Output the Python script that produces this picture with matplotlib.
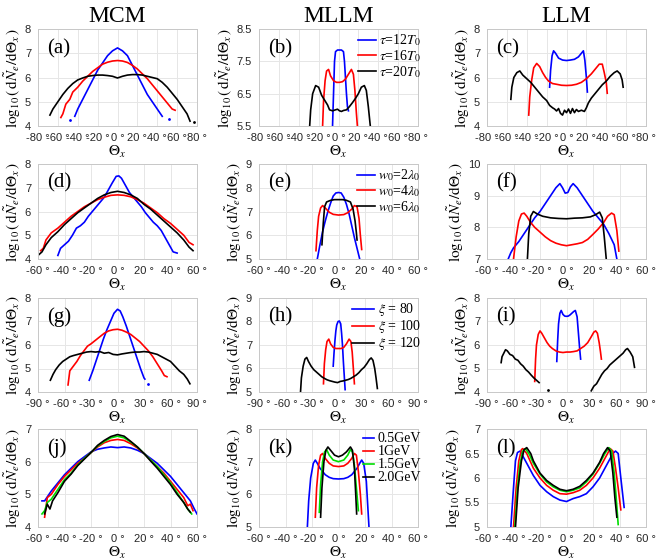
import numpy as np
import matplotlib
matplotlib.use("Agg")
import matplotlib.pyplot as plt

plt.rcParams['font.family'] = ['Liberation Serif', 'DejaVu Serif']
plt.rcParams['mathtext.fontset'] = 'stix'

# ---------------- data ----------------
# panel (a)  tau scan, MCM
a_blue = [(-43, 4.4), (-40, 4.7), (-35, 5.1), (-30, 5.5), (-25, 5.9), (-20, 6.3), (-15, 6.6),
          (-10, 6.9), (-5, 7.1), (0, 7.22), (5, 7.1), (10, 6.9), (15, 6.5), (20, 6.1),
          (25, 5.7), (30, 5.3), (35, 5.0), (40, 4.7), (45, 4.4)]
a_red = [(-57, 4.35), (-55, 4.5), (-52, 4.9), (-48, 5.1), (-45, 5.4), (-40, 5.6), (-35, 5.85),
         (-30, 6.05), (-25, 6.25), (-20, 6.4), (-15, 6.55), (-10, 6.63), (-5, 6.68), (0, 6.7),
         (5, 6.68), (10, 6.62), (15, 6.5), (20, 6.35), (25, 6.15), (30, 5.95), (35, 5.7),
         (40, 5.45), (45, 5.2), (50, 4.95), (55, 4.7), (58, 4.65)]
a_black = [(-68, 4.45), (-65, 4.7), (-60, 5.0), (-55, 5.3), (-50, 5.55), (-45, 5.75), (-40, 5.9),
           (-35, 5.98), (-30, 6.05), (-25, 6.08), (-20, 6.1), (-15, 6.1), (-10, 6.08), (-5, 6.05),
           (0, 5.98), (5, 6.05), (10, 6.1), (15, 6.12), (20, 6.12), (25, 6.1), (30, 6.05),
           (35, 6.0), (40, 5.95), (45, 5.8), (50, 5.6), (55, 5.35), (60, 5.1), (65, 4.8),
           (70, 4.5), (73, 4.2)]

# panel (b)  tau scan, MLLM
b_blue = [(-6, 5.5), (-5, 6.5), (-4, 7.5), (-3, 7.8), (-1, 7.85), (3, 7.85), (5, 7.8), (6, 7.5),
          (7, 7.0), (8, 6.5), (9, 6.1), (10, 5.97)]
b_red = [(-16, 5.5), (-15, 6.3), (-13.5, 6.9), (-12, 7.2), (-10, 7.25), (-8, 7.05), (-5, 6.9),
         (-2, 6.85), (1, 6.85), (4, 6.87), (7, 6.95), (10, 7.1), (13, 7.25), (15, 7.1),
         (16.5, 6.6), (18, 5.9), (19, 5.5)]
b_black = [(-29, 5.5), (-28, 6.0), (-26, 6.5), (-23, 6.75), (-20, 6.7), (-17, 6.45), (-14, 6.3),
           (-11, 6.15), (-9, 6.0), (-6, 5.97), (-3, 6.0), (-1, 6.02), (1, 5.97), (3, 5.95),
           (5, 5.98), (8, 6.0), (11, 6.1), (14, 6.22), (17, 6.35), (20, 6.5), (23, 6.7),
           (26, 6.75), (28, 6.6), (30, 6.1), (32, 5.5)]

# panel (c)  tau scan, LLM
c_blue = [(-17, 5.6), (-16, 6.3), (-14.5, 6.9), (-13, 7.1), (-11, 7.0), (-8, 6.8), (-4, 6.72),
          (0, 6.7), (4, 6.72), (8, 6.75), (12, 6.85), (15, 7.0), (17, 7.1), (18.5, 6.7),
          (20, 6.0), (21, 5.4)]
c_red = [(-38, 4.45), (-37, 5.2), (-35, 5.9), (-33, 6.4), (-30, 6.58), (-27, 6.45), (-24, 6.2),
         (-21, 6.0), (-18, 5.85), (-14, 5.75), (-10, 5.72), (-5, 5.68), (0, 5.67), (5, 5.68),
         (10, 5.72), (15, 5.8), (20, 5.95), (25, 6.15), (29, 6.35), (33, 6.55), (36, 6.55),
         (38, 6.2), (40, 5.8), (41, 5.35)]
c_black = [(-56, 5.1), (-55, 5.6), (-53, 6.0), (-50, 6.2), (-47, 6.27), (-44, 6.1), (-40, 5.95),
           (-36, 5.8), (-32, 5.6), (-28, 5.4), (-24, 5.2), (-20, 5.05), (-17, 4.85), (-14, 4.75),
           (-12, 4.7), (-10, 4.62), (-8, 4.72), (-6, 4.52), (-4, 4.45), (-2, 4.65), (0, 4.55),
           (2, 4.7), (4, 4.52), (6, 4.72), (8, 4.55), (10, 4.68), (12, 4.6), (15, 4.65), (18, 4.6),
           (20, 4.75), (22, 4.95), (25, 5.15), (28, 5.3), (32, 5.5), (36, 5.7), (40, 5.85),
           (44, 6.05), (48, 6.2), (51, 6.27), (54, 6.15), (56, 5.9), (57, 5.6)]

# panel (d)  w0 scan, MCM
d_blue = [(-45, 4.15), (-43, 4.45), (-40, 4.6), (-37, 4.75), (-34, 5.0), (-31, 5.3), (-28, 5.4),
          (-25, 5.55), (-22, 5.8), (-19, 6.0), (-16, 6.2), (-13, 6.4), (-10, 6.6), (-7, 6.9),
          (-4, 7.2), (-1, 7.48), (1, 7.5), (3, 7.4), (6, 7.1), (9, 6.8), (12, 6.6), (15, 6.4),
          (18, 6.2), (21, 5.95), (24, 5.75), (27, 5.55), (30, 5.4), (33, 5.2), (36, 4.9),
          (39, 4.6), (42, 4.3), (45, 4.25)]
d_red = [(-58, 4.35), (-56, 4.45), (-54, 4.8), (-50, 5.1), (-45, 5.3), (-40, 5.55), (-35, 5.8),
         (-30, 6.0), (-25, 6.2), (-20, 6.35), (-15, 6.5), (-10, 6.6), (-5, 6.68), (0, 6.7),
         (5, 6.68), (10, 6.62), (15, 6.5), (20, 6.35), (25, 6.15), (30, 5.95), (35, 5.7),
         (40, 5.5), (45, 5.25), (50, 5.0), (54, 4.7), (57, 4.6)]
d_black = [(-60, 4.15), (-57, 4.3), (-54, 4.6), (-50, 4.9), (-45, 5.15), (-40, 5.45), (-35, 5.7),
           (-30, 5.95), (-25, 6.15), (-20, 6.35), (-15, 6.55), (-10, 6.7), (-5, 6.8), (0, 6.85),
           (5, 6.8), (10, 6.7), (15, 6.55), (20, 6.3), (25, 6.1), (30, 5.85), (35, 5.6),
           (40, 5.35), (45, 5.1), (50, 4.8), (54, 4.5), (57, 4.35)]

# panel (e)  w0 scan, MLLM
e_blue = [(-16, 5.0), (-14, 5.6), (-12, 6.15), (-10, 6.6), (-8, 7.0), (-6, 7.35), (-4, 7.65),
          (-2, 7.78), (0, 7.8), (2, 7.78), (4, 7.6), (6, 7.3), (8, 6.9), (10, 6.4), (12, 5.9),
          (14, 5.45), (16, 5.0)]
e_red = [(-17, 5.35), (-16, 6.2), (-15, 6.8), (-13.5, 7.15), (-12, 7.25), (-10, 7.15), (-7, 6.97),
         (-4, 6.88), (0, 6.85), (4, 6.87), (7, 6.95), (10, 7.1), (12, 7.25), (14, 7.2),
         (15.5, 6.7), (16.5, 6.0), (17.5, 5.4)]
e_black = [(-12.5, 5.6), (-11.5, 6.5), (-10.5, 7.2), (-9, 7.4), (-6, 7.47), (-3, 7.5), (0, 7.5),
           (3, 7.5), (6, 7.47), (9, 7.4), (11, 7.1), (12.5, 6.6), (13.5, 6.1), (14, 5.8)]

# panel (f)  w0 scan, LLM
f_blue = [(-44, 7.0), (-42, 7.2), (-40, 7.35), (-36, 7.55), (-32, 7.8), (-28, 8.05), (-24, 8.3),
          (-20, 8.5), (-16, 8.75), (-12, 9.0), (-8, 9.25), (-5, 9.38), (-3, 9.25), (-1, 9.08),
          (1, 9.1), (3, 9.28), (5, 9.38), (8, 9.25), (12, 9.0), (16, 8.75), (20, 8.5),
          (24, 8.3), (28, 8.1), (32, 7.8), (36, 7.45), (38, 7.0)]
f_red = [(-40, 7.0), (-38, 7.7), (-36, 8.2), (-34, 8.42), (-32, 8.45), (-30, 8.35), (-27, 8.15),
         (-24, 8.0), (-20, 7.85), (-16, 7.7), (-12, 7.58), (-8, 7.5), (-4, 7.45), (0, 7.42),
         (4, 7.45), (8, 7.48), (12, 7.52), (16, 7.62), (20, 7.78), (24, 7.95), (28, 8.15),
         (31, 8.35), (34, 8.45), (36, 8.4), (38, 7.9), (39.5, 7.25)]
f_black = [(-29.5, 7.0), (-28.5, 7.8), (-27, 8.35), (-25, 8.5), (-22, 8.42), (-18, 8.35),
           (-12, 8.3), (-6, 8.28), (0, 8.27), (6, 8.29), (12, 8.3), (18, 8.33), (22, 8.4),
           (25, 8.48), (27, 8.3), (28.5, 7.7), (30, 7.0)]

# panel (g)  xi scan, MCM
g_blue = [(-32, 4.5), (-28, 4.9), (-24, 5.35), (-20, 5.8), (-16, 6.25), (-12, 6.65), (-8, 7.0),
          (-4, 7.35), (0, 7.52), (3, 7.45), (6, 7.2), (10, 6.8), (14, 6.35), (18, 5.9),
          (22, 5.45), (26, 5.0), (30, 4.6), (31, 4.55)]
g_red = [(-56, 4.3), (-55, 4.6), (-54, 4.9), (-50, 5.1), (-46, 5.3), (-42, 5.55), (-38, 5.75),
         (-34, 5.95), (-30, 6.05), (-25, 6.2), (-20, 6.35), (-15, 6.5), (-10, 6.6), (-5, 6.65),
         (0, 6.67), (5, 6.63), (10, 6.55), (15, 6.45), (20, 6.3), (25, 6.15), (30, 5.95),
         (35, 5.75), (40, 5.5), (45, 5.2), (50, 4.9), (53, 4.7), (56, 4.65)]
g_black = [(-76, 4.5), (-73, 4.75), (-70, 4.95), (-66, 5.15), (-62, 5.3), (-58, 5.4), (-54, 5.5),
           (-50, 5.55), (-45, 5.6), (-40, 5.65), (-35, 5.7), (-30, 5.72), (-25, 5.7), (-20, 5.72),
           (-15, 5.65), (-10, 5.68), (-5, 5.6), (0, 5.58), (5, 5.62), (10, 5.65), (15, 5.68),
           (20, 5.7), (25, 5.7), (30, 5.72), (35, 5.7), (40, 5.65), (45, 5.6), (50, 5.5),
           (55, 5.4), (60, 5.3), (65, 5.1), (70, 4.9), (75, 4.75), (79, 4.55), (82, 4.35)]

# panel (h)  xi scan, MLLM
h_blue = [(-6, 6.1), (-5, 6.7), (-4, 7.2), (-3, 7.6), (-2, 7.85), (-0.5, 8.0), (1, 8.02),
          (2.5, 7.9), (3.5, 7.5), (4.5, 7.0), (5.5, 6.3), (6.5, 5.7), (7.5, 5.1)]
h_red = [(-17, 5.35), (-16, 6.2), (-14.5, 6.8), (-13, 7.15), (-11, 7.25), (-9, 7.05), (-6, 6.9),
         (-3, 6.85), (0, 6.85), (3, 6.85), (6, 6.9), (9, 7.05), (12, 7.25), (14, 7.15),
         (15.5, 6.7), (17, 5.9), (18, 5.35)]
h_black = [(-43, 5.0), (-42, 5.6), (-40, 6.1), (-38, 6.4), (-36, 6.47), (-34, 6.3), (-31, 6.1),
           (-28, 5.95), (-25, 5.85), (-22, 5.75), (-19, 5.65), (-16, 5.58), (-13, 5.52),
           (-10, 5.48), (-7, 5.45), (-4, 5.42), (-1, 5.4), (2, 5.45), (5, 5.47), (8, 5.5),
           (11, 5.53), (14, 5.58), (17, 5.65), (20, 5.72), (23, 5.82), (26, 5.95), (29, 6.05),
           (32, 6.2), (35, 6.38), (37, 6.45), (39, 6.35), (41, 6.0), (42.5, 5.6), (44, 5.15)]

# panel (i)  xi scan, LLM (black has a gap in the middle)
i_blue = [(-11, 5.3), (-10, 6.2), (-9, 6.9), (-7.5, 7.35), (-6, 7.47), (-4, 7.3), (-2, 7.23),
          (0, 7.22), (2, 7.23), (4, 7.28), (6, 7.35), (8, 7.42), (10, 7.47), (12, 7.2),
          (13.5, 6.5), (15, 5.8), (16, 5.4)]
i_red = [(-36, 4.45), (-35, 5.4), (-34, 6.0), (-32, 6.45), (-30, 6.6), (-28, 6.5), (-25, 6.3),
         (-22, 6.1), (-19, 5.95), (-16, 5.85), (-12, 5.75), (-8, 5.7), (-4, 5.68), (0, 5.7),
         (4, 5.7), (8, 5.72), (12, 5.75), (16, 5.85), (20, 5.95), (24, 6.1), (28, 6.35),
         (31, 6.55), (33, 6.6), (35, 6.5), (37, 6.1), (38.5, 5.7), (39.5, 5.4)]
i_black = [(-74, 5.25), (-73, 5.5), (-71, 5.65), (-69, 5.8), (-67, 5.75), (-64, 5.6), (-61, 5.55),
           (-58, 5.4), (-55, 5.35), (-52, 5.2), (-49, 5.1), (-46, 4.95), (-43, 4.85), (-40, 4.72),
           (-37, 4.6), (-34, 4.5), (-31, 4.4), (np.nan, np.nan),
           (28, 4.05), (31, 4.25), (34, 4.35), (37, 4.55), (40, 4.75), (43, 4.9), (46, 5.0),
           (49, 5.15), (52, 5.25), (55, 5.35), (58, 5.45), (61, 5.55), (64, 5.65), (67, 5.8),
           (69, 5.85), (72, 5.7), (75, 5.5), (77, 5.05)]

# panel (j)  energy scan, MCM
j_blue = [(-57, 4.8), (-55, 4.8), (-50, 5.1), (-45, 5.35), (-40, 5.6), (-35, 5.8), (-30, 6.0),
          (-25, 6.15), (-20, 6.3), (-15, 6.38), (-10, 6.42), (-5, 6.45), (0, 6.43), (5, 6.45),
          (10, 6.42), (15, 6.35), (20, 6.25), (25, 6.1), (30, 5.95), (35, 5.75), (40, 5.55),
          (45, 5.3), (50, 5.05), (55, 4.8), (58, 4.55), (60, 4.4)]
j_red = [(-55, 4.3), (-53, 4.9), (-50, 5.0), (-45, 5.3), (-40, 5.55), (-35, 5.75), (-30, 5.95),
         (-25, 6.1), (-20, 6.28), (-15, 6.45), (-10, 6.58), (-5, 6.65), (0, 6.68), (5, 6.65),
         (10, 6.55), (15, 6.42), (20, 6.25), (25, 6.05), (30, 5.85), (35, 5.65), (40, 5.4),
         (45, 5.15), (50, 4.9), (53, 4.65), (55, 4.7), (57, 4.5)]
j_green = [(-57, 4.4), (-55, 4.5), (-53, 4.75), (-50, 4.85), (-45, 5.15), (-40, 5.45), (-35, 5.65),
           (-30, 5.9), (-25, 6.1), (-20, 6.28), (-15, 6.48), (-10, 6.62), (-5, 6.73), (0, 6.78),
           (5, 6.73), (10, 6.6), (15, 6.45), (20, 6.25), (25, 6.05), (30, 5.85), (35, 5.6),
           (40, 5.35), (45, 5.05), (50, 4.75), (53, 4.55), (56, 4.4)]
j_black = [(-55, 4.4), (-53, 4.7), (-51, 4.55), (-49, 4.8), (-45, 5.05), (-40, 5.4), (-35, 5.62),
           (-30, 5.88), (-25, 6.08), (-20, 6.28), (-15, 6.5), (-10, 6.65), (-5, 6.77), (0, 6.83),
           (5, 6.78), (10, 6.62), (15, 6.45), (20, 6.25), (25, 6.02), (30, 5.8), (35, 5.55),
           (40, 5.3), (45, 5.0), (50, 4.75), (53, 4.55), (55, 4.45)]

# panel (k)  energy scan, MLLM
k_blue = [(-23.5, 5.0), (-22.5, 5.8), (-21, 6.5), (-19, 6.95), (-17.5, 7.05), (-16, 6.95),
          (-14, 6.8), (-12, 6.7), (-10, 6.6), (-7, 6.52), (-4, 6.48), (0, 6.47), (4, 6.48),
          (7, 6.52), (10, 6.6), (12, 6.7), (14, 6.8), (16, 6.95), (17.5, 7.05), (19, 6.95),
          (21, 6.4), (22, 5.7), (23, 5.0)]
k_red = [(-17.5, 5.3), (-16.5, 6.2), (-15, 6.9), (-13.5, 7.2), (-12, 7.25), (-10, 7.1), (-7, 6.95),
         (-4, 6.87), (0, 6.85), (4, 6.87), (7, 6.95), (10, 7.1), (12, 7.25), (13.5, 7.2),
         (15, 6.7), (16.5, 6.0), (17.5, 5.4)]
k_green = [(-14.5, 5.45), (-13.5, 6.3), (-12, 7.0), (-10.5, 7.3), (-9, 7.37), (-7, 7.2), (-4, 7.05),
           (0, 7.0), (4, 7.05), (7, 7.2), (9, 7.37), (10.5, 7.3), (12, 6.9), (13.5, 6.2),
           (15, 5.5)]
k_black = [(-13.5, 5.3), (-12.5, 6.2), (-11, 7.0), (-9.5, 7.35), (-8, 7.45), (-6, 7.35), (-3, 7.2),
           (0, 7.15), (3, 7.2), (6, 7.3), (9, 7.45), (10.5, 7.35), (12, 6.8), (13, 6.0),
           (13.7, 5.4)]

# panel (l)  energy scan, LLM
l_blue = [(-42, 5.0), (-40, 5.8), (-38.5, 6.35), (-37, 6.52), (-35, 6.55), (-33, 6.45), (-30, 6.3),
          (-25, 6.05), (-20, 5.85), (-15, 5.72), (-10, 5.62), (-5, 5.55), (0, 5.52), (5, 5.58),
          (10, 5.62), (15, 5.68), (20, 5.82), (25, 6.0), (30, 6.25), (35, 6.5), (37, 6.55),
          (39, 6.5), (41, 6.0), (43.5, 5.4)]
l_red = [(-40, 5.0), (-38, 5.8), (-36, 6.35), (-34, 6.58), (-33, 6.6), (-30, 6.5), (-25, 6.2),
         (-20, 6.0), (-15, 5.85), (-10, 5.75), (-5, 5.68), (0, 5.67), (5, 5.7), (10, 5.75),
         (15, 5.85), (20, 6.0), (25, 6.2), (30, 6.45), (33, 6.6), (35, 6.55), (37, 6.2),
         (39, 5.8), (41, 5.35)]
l_green = [(-39, 5.0), (-37, 5.8), (-35, 6.3), (-33, 6.55), (-31, 6.6), (-28, 6.48), (-25, 6.3),
           (-20, 6.08), (-15, 5.92), (-10, 5.82), (-5, 5.75), (0, 5.72), (5, 5.75), (10, 5.8),
           (15, 5.92), (20, 6.08), (25, 6.3), (29, 6.5), (32, 6.62), (34, 6.55), (36, 6.1),
           (37.5, 5.6), (39, 5.05)]
l_black = [(-38.5, 5.0), (-36.5, 5.8), (-34, 6.35), (-32, 6.58), (-30, 6.62), (-27, 6.5),
           (-25, 6.35), (-20, 6.1), (-15, 5.95), (-10, 5.85), (-5, 5.77), (0, 5.74), (5, 5.77),
           (10, 5.83), (15, 5.95), (20, 6.1), (25, 6.32), (28, 6.5), (31, 6.62), (33, 6.55),
           (35, 6.1), (36.5, 5.6), (38, 5.2)]

col_titles = ["MCM", "MLLM", "LLM"]
panel_tags = ["(a)", "(b)", "(c)", "(d)", "(e)", "(f)", "(g)", "(h)", "(i)", "(j)", "(k)", "(l)"]

legend_b = [r"$\tau$=12$T_0$", r"$\tau$=16$T_0$", r"$\tau$=20$T_0$"]
legend_e = [r"$w_0$=2$\lambda_0$", r"$w_0$=4$\lambda_0$", r"$w_0$=6$\lambda_0$"]
legend_h = [r"$\xi$ = 80", r"$\xi$ = 100", r"$\xi$ = 120"]
legend_k = ["0.5GeV", "1GeV", "1.5GeV", "2.0GeV"]

xticks_rows = [list(range(-80, 81, 20)), list(range(-60, 61, 20)),
               list(range(-90, 91, 30)), list(range(-60, 61, 20))]
ylims = [[(4, 8), (5.5, 8.5), (4, 8)],
         [(4, 8), (5, 9), (7, 10)],
         [(4, 8), (5, 9), (4, 8)],
         [(4, 7), (5, 8), (5, 7)]]
yticks = [[[4, 5, 6, 7, 8], [5.5, 6.5, 7.5, 8.5], [4, 5, 6, 7, 8]],
          [[4, 5, 6, 7, 8], [5, 6, 7, 8, 9], [7, 8, 9, 10]],
          [[4, 5, 6, 7, 8], [5, 6, 7, 8, 9], [4, 5, 6, 7, 8]],
          [[4, 5, 6, 7], [5, 6, 7, 8], [5, 5.5, 6, 6.5, 7]]]

curves = [[[a_blue, a_red, a_black], [b_blue, b_red, b_black], [c_blue, c_red, c_black]],
          [[d_blue, d_red, d_black], [e_blue, e_red, e_black], [f_blue, f_red, f_black]],
          [[g_blue, g_red, g_black], [h_blue, h_red, h_black], [i_blue, i_red, i_black]],
          [[j_blue, j_red, j_green, j_black], [k_blue, k_red, k_green, k_black],
           [l_blue, l_red, l_green, l_black]]]
legends = {(0, 1): (legend_b, 1.3), (1, 1): (legend_e, 1.3),
           (2, 1): (legend_h, 1.6), (3, 1): (legend_k, 0.8)}

# isolated stray points seen in the reference
dots = {(0, 0): [((-48, 4.25), 'b'), ((52, 4.3), 'b'), ((77, 4.15), 'k')],
        (2, 0): [((35, 4.35), 'b')],
        (2, 2): [((-21, 4.1), 'k')]}

# ---------------- layout ----------------
W, H = 656, 558
fig = plt.figure(figsize=(W / 100, H / 100), dpi=100)

col_left = [38, 259, 487]
col_w = 159
row_top = [29, 164, 298, 429]
row_h = [97, 95, 94, 98]

tick_font = dict(family=['Liberation Sans', 'DejaVu Sans'], size=8)
ylab = r"$\log_{10}(\,\mathrm{d}\tilde{N}_e/\mathrm{d}\Theta_x\,)$"

for r in range(4):
    for c in range(3):
        ax = fig.add_axes([col_left[c] / W, 1 - (row_top[r] + row_h[r]) / H,
                           col_w / W, row_h[r] / H])
        series = curves[r][c]
        colors = ['b', 'r', 'k'] if len(series) == 3 else ['b', 'r', '#00dd00', 'k']
        handles = []
        for pts, col in zip(series, colors):
            xy = np.array(pts, dtype=float)
            h, = ax.plot(xy[:, 0], xy[:, 1], color=col, lw=1.2)
            handles.append(h)
        for (pt, col) in dots.get((r, c), []):
            ax.plot([pt[0]], [pt[1]], '.', color=col, ms=2)

        xt = xticks_rows[r]
        ax.set_xlim(xt[0], xt[-1])
        ax.set_xticks(xt)
        ax.set_xticklabels([f"{v} °" for v in xt], **tick_font)
        ax.set_ylim(*ylims[r][c])
        ax.set_yticks(yticks[r][c])
        ax.set_yticklabels([f"{v:g}" for v in yticks[r][c]], **tick_font)
        ax.tick_params(axis='x', length=0, pad=5, colors='#262626')
        ax.tick_params(axis='y', length=0, pad=5, colors='#262626')
        ax.grid(True, color='#e6e6e6', lw=0.7)
        ax.set_axisbelow(True)
        for s in ax.spines.values():
            s.set_color('#c8c8c8')
            s.set_linewidth(0.7)

        ax.set_xlabel(r"$\Theta_x$", fontsize=11, labelpad=1)
        ax.set_ylabel(ylab, fontsize=11, labelpad=1)
        ax.text(0.055, 0.80, panel_tags[r * 3 + c], transform=ax.transAxes,
                fontsize=15, va='center', ha='left')
        if r == 0:
            ax.set_title(col_titles[c], fontsize=17, pad=5)

        if (r, c) in legends:
            labels, hl = legends[(r, c)]
            ax.legend(handles, labels, loc='upper right', bbox_to_anchor=(1.04, 1.0),
                      frameon=False, fontsize=10, handlelength=hl, handletextpad=0.25,
                      labelspacing=0.0, borderaxespad=0.1, borderpad=0.15)

fig.savefig("out.png", dpi=100)
